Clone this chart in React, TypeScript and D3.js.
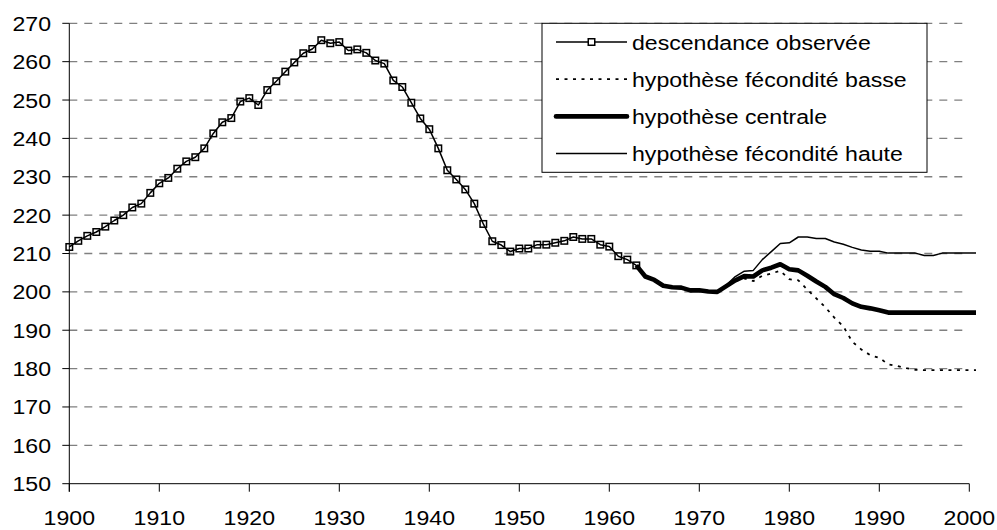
import React from 'react';
import * as d3 from 'd3';

// ---------- data ----------
const obsYears = d3.range(1900, 1964);
const observed = [
  211.7, 213.3, 214.6, 215.6, 217.0, 218.6, 220.0, 222.0, 223.0, 225.8,
  228.3, 229.7, 232.1, 234.0, 235.1, 237.4, 241.3, 244.2, 245.3, 249.6,
  250.5, 248.7, 252.6, 254.9, 257.4, 259.8, 262.2, 263.3, 265.6, 264.8,
  265.1, 262.9, 263.2, 262.3, 260.3, 259.5, 255.1, 253.4, 249.3, 245.2,
  242.4, 237.4, 231.7, 229.3, 226.7, 223.0, 217.7, 213.2, 212.2, 210.5,
  211.3, 211.3, 212.3, 212.3, 212.8, 213.3, 214.3, 213.8, 213.8, 212.3,
  211.8, 209.3, 208.4, 206.9,
];

const projYears = d3.range(1963, 2002);
const central = [
  206.9, 204.0, 203.1, 201.6, 201.2, 201.1, 200.4, 200.4, 200.1, 200.0,
  201.5, 203.0, 204.1, 204.0, 205.6, 206.3, 207.2, 205.9, 205.6, 204.2,
  202.7, 201.3, 199.4, 198.4, 197.0, 196.1, 195.7, 195.2, 194.6, 194.6,
  194.6, 194.6, 194.6, 194.6, 194.6, 194.6, 194.6, 194.6, 194.6,
];
const high = [
  206.9, 204.0, 203.1, 201.6, 201.2, 201.1, 200.4, 200.4, 200.1, 200.0,
  201.8, 204.0, 205.4, 205.6, 208.4, 210.5, 212.6, 212.8, 214.3, 214.3,
  213.9, 213.9, 213.0, 212.4, 211.6, 210.9, 210.6, 210.6, 210.1, 210.1,
  210.1, 210.1, 209.5, 209.5, 210.1, 210.1, 210.1, 210.1, 210.1,
];
const low = [
  206.9, 204.0, 203.1, 201.6, 201.2, 201.1, 200.4, 200.4, 200.1, 200.0,
  201.5, 202.8, 203.5, 202.8, 204.2, 204.8, 205.5, 203.3, 203.0, 200.6,
  198.3, 196.0, 193.3, 191.0, 187.0, 185.0, 183.5, 182.8, 181.1, 180.7,
  180.1, 179.7, 179.6, 179.6, 179.6, 179.6, 179.6, 179.6, 179.6,
];

const yTicks = [150, 160, 170, 180, 190, 200, 210, 220, 230, 240, 250, 260, 270];
const xTicks = [1900, 1910, 1920, 1930, 1940, 1950, 1960, 1970, 1980, 1990, 2000];
const legendLabels = [
  'descendance observée',
  'hypothèse fécondité basse',
  'hypothèse centrale',
  'hypothèse fécondité haute',
];

// ---------- layout ----------
const W = 997;
const H = 530;
const X0 = 69.3;
const X1 = 969.3;
const YT = 23.3;
const YB = 483.7;
const FS = 21;
const SX = 1.1;
const FONT = '"Liberation Sans", Arial, Helvetica, sans-serif';

const x = d3.scaleLinear().domain([1900, 2000]).range([X0, X1]);
const y = d3.scaleLinear().domain([150, 270]).range([YB, YT]);

type Pt = [number, number];
const line = d3.line<Pt>().x((d) => x(d[0])).y((d) => y(d[1]));
const zip = (ys: number[], vs: number[]): Pt[] => ys.map((yr, i) => [yr, vs[i]]);

const Txt = ({ tx, ty, anchor, children }: { tx: number; ty: number; anchor: string; children: React.ReactNode }) => (
  <text
    transform={`translate(${tx},${ty}) scale(${SX},1)`}
    textAnchor={anchor}
    fontSize={FS}
    fontFamily={FONT}
    fill="#000"
  >
    {children}
  </text>
);

export default function App() {
  const obsPts = zip(obsYears, observed);
  const legX0 = 542;
  const legX1 = 927;
  const legY0 = 23.3;
  const legY1 = 172.3;
  const rowY = (i: number) => 42 + i * 37.2;
  const sampleA = 556;
  const sampleB = 627;
  const m = 6.5;
  const dots = '3,5.5';

  return (
    <svg
      width={W}
      height={H}
      style={{ position: 'absolute', left: 0, top: 0, background: '#fff' }}
    >
      <defs>
        <clipPath id="plotclip">
          <rect x={0} y={0} width={976} height={H} />
        </clipPath>
      </defs>
      <rect x={0} y={0} width={W} height={H} fill="#fff" />

      {/* gridlines */}
      {yTicks.filter((v) => v !== 150).map((v) => (
        <line
          key={'g' + v}
          x1={X0}
          x2={X1}
          y1={y(v)}
          y2={y(v)}
          stroke="#808080"
          strokeWidth={1.3}
          strokeDasharray="8,7"
        />
      ))}

      {/* axes */}
      <line x1={X0} x2={X0} y1={YT} y2={YB + 8} stroke="#000" strokeWidth={1} />
      <line x1={X0} x2={X1} y1={YB} y2={YB} stroke="#000" strokeWidth={1} />
      {yTicks.map((v) => (
        <line key={'yt' + v} x1={X0 - 7} x2={X0} y1={y(v)} y2={y(v)} stroke="#000" strokeWidth={1} />
      ))}
      {xTicks.map((t) => (
        <line key={'xt' + t} x1={x(t)} x2={x(t)} y1={YB} y2={YB + 8} stroke="#000" strokeWidth={1} />
      ))}

      {/* tick labels */}
      {yTicks.map((v) => (
        <Txt key={'yl' + v} tx={51} ty={y(v) + 7.5} anchor="end">
          {v}
        </Txt>
      ))}
      {xTicks.map((t) => (
        <Txt key={'xl' + t} tx={x(t)} ty={525} anchor="middle">
          {t}
        </Txt>
      ))}

      {/* series */}
      <g clipPath="url(#plotclip)">
        <path d={line(zip(projYears, high)) || ''} fill="none" stroke="#000" strokeWidth={1.5} strokeLinejoin="round" />
        <path d={line(zip(projYears, low)) || ''} fill="none" stroke="#000" strokeWidth={1.8} strokeDasharray={dots} />
        <path d={line(zip(projYears, central)) || ''} fill="none" stroke="#000" strokeWidth={4.6} strokeLinejoin="round" />
        <path d={line(obsPts) || ''} fill="none" stroke="#000" strokeWidth={1.5} strokeLinejoin="round" />
        {obsPts.map((p, i) => (
          <rect
            key={'m' + i}
            x={x(p[0]) - m / 2}
            y={y(p[1]) - m / 2}
            width={m}
            height={m}
            fill="none"
            stroke="#000"
            strokeWidth={1.5}
          />
        ))}
      </g>

      {/* legend */}
      <rect x={legX0} y={legY0} width={legX1 - legX0} height={legY1 - legY0} fill="#fff" stroke="#000" strokeWidth={1} />
      <line x1={sampleA} x2={sampleB} y1={rowY(0)} y2={rowY(0)} stroke="#000" strokeWidth={1.5} />
      <rect x={(sampleA + sampleB) / 2 - m / 2} y={rowY(0) - m / 2} width={m} height={m} fill="#fff" stroke="#000" strokeWidth={1.5} />
      <line x1={sampleA} x2={sampleB} y1={rowY(1)} y2={rowY(1)} stroke="#000" strokeWidth={1.8} strokeDasharray={dots} />
      <line x1={sampleA} x2={sampleB} y1={rowY(2)} y2={rowY(2)} stroke="#000" strokeWidth={4.6} strokeLinecap="round" />
      <line x1={sampleA} x2={sampleB} y1={rowY(3)} y2={rowY(3)} stroke="#000" strokeWidth={1.5} />
      {legendLabels.map((l, i) => (
        <Txt key={'ll' + i} tx={632} ty={rowY(i) + 7.5} anchor="start">
          {l}
        </Txt>
      ))}
    </svg>
  );
}
